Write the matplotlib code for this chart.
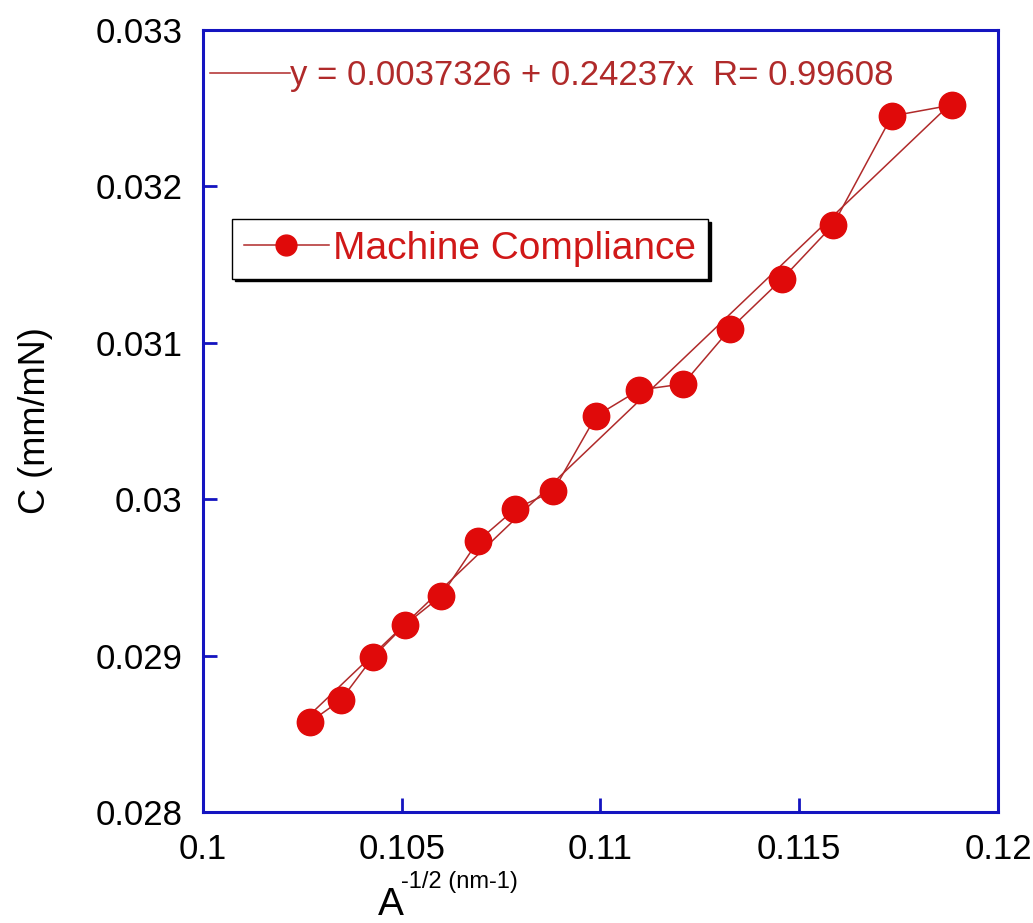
import matplotlib.pyplot as plt
from matplotlib.lines import Line2D
import numpy as np

plt.rcParams['font.family'] = ['Liberation Sans', 'DejaVu Sans']

# data
x_vals = [0.10269, 0.10347, 0.10428, 0.10508, 0.10599, 0.10692, 0.10785, 0.10881,
          0.10989, 0.11097, 0.11208, 0.11326, 0.11457, 0.11585, 0.11733, 0.11884]
c_vals = [0.028575, 0.028716, 0.028991, 0.029196, 0.029381, 0.029733, 0.029937, 0.030052,
          0.030532, 0.030698, 0.030737, 0.031088, 0.031408, 0.031753, 0.032450, 0.032520]
fit_a = 0.0037326
fit_b = 0.24237
fit_r = 0.99608

x_ticks = [0.1, 0.105, 0.11, 0.115, 0.12]
x_labels = ['0.1', '0.105', '0.11', '0.115', '0.12']
y_ticks = [0.028, 0.029, 0.03, 0.031, 0.032, 0.033]
y_labels = ['0.028', '0.029', '0.03', '0.031', '0.032', '0.033']

BLUE = '#1414c0'
DARKRED = '#b02a2a'
RED = '#e00a0a'


def main() -> None:
    fig = plt.figure(figsize=(10.33, 9.23), dpi=100)
    ax = fig.add_axes([0.1965, 0.1203, 0.7696, 0.8472])

    xs = np.array(x_vals)
    fit_x = np.array([xs.min(), xs.max()])
    ax.plot(fit_x, fit_a + fit_b * fit_x, color=DARKRED, lw=1.1)
    ax.plot(x_vals, c_vals, color=DARKRED, lw=1.1, marker='o', ms=19,
            mfc=RED, mec=RED, zorder=3)

    ax.set_xlim(0.1, 0.12)
    ax.set_ylim(0.028, 0.033)
    ax.set_xticks(x_ticks, x_labels)
    ax.set_yticks(y_ticks, y_labels)
    ax.tick_params(direction='in', length=10, width=2, color=BLUE,
                   labelsize=25, top=False, right=False)
    ax.tick_params(axis='y', pad=15)
    ax.tick_params(axis='x', pad=15)
    for s in ax.spines.values():
        s.set_color(BLUE)
        s.set_linewidth(2.2)

    ax.set_ylabel('C (mm/mN)', fontsize=26, labelpad=30)

    fig.text(378 / 1033, 0.0, 'A', fontsize=28, ha='left', va='bottom')
    fig.text(401 / 1033, (923 - 888) / 923, '-1/2 (nm-1)', fontsize=17,
             ha='left', va='baseline')

    # fit legend (frameless, top)
    fit_handle = Line2D([], [], color=DARKRED, lw=1.1)
    fit_label = f'y = {fit_a} + {fit_b}x  R= {fit_r}'
    leg1 = ax.legend([fit_handle], [fit_label], loc='center left',
                     bbox_to_anchor=(0.009, 0.942), frameon=False,
                     borderpad=0, borderaxespad=0, handlelength=2.3,
                     handletextpad=0, fontsize=25, labelcolor=DARKRED)
    ax.add_artist(leg1)

    data_handle = Line2D([], [], color=DARKRED, lw=1.1, marker='o', ms=15,
                         mfc=RED, mec=RED)
    ax.legend([data_handle], ['Machine Compliance'], loc='center left',
              bbox_to_anchor=(0.0365, 0.72), borderaxespad=0, borderpad=0.3,
              handlelength=2.2, handletextpad=0.1, fontsize=28,
              labelcolor='#d01818', fancybox=False, edgecolor='black',
              framealpha=1, shadow={'color': 'black', 'alpha': 1})

    fig.savefig('out.png', dpi=100)


if __name__ == '__main__':
    main()
